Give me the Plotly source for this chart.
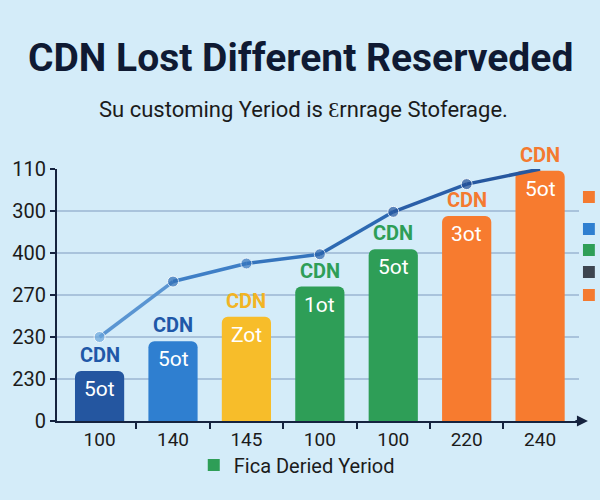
import plotly.graph_objects as go

# ---- data ----
categories = [0, 1, 2, 3, 4, 5, 6]
x_labels = ["100", "140", "145", "100", "100", "220", "240"]
bar_values = [1.19, 1.90, 2.48, 3.20, 4.09, 4.88, 5.96]
line_values = [2.00, 3.32, 3.75, 3.97, 4.98, 5.64, 6.00]
y_tickvals = [0, 1, 2, 3, 4, 5, 6]
y_ticktext = ["0", "230", "230", "270", "400", "300", "110"]
top_labels = ["CDN"] * 7
inner_labels = ["5ot", "5ot", "Zot", "1ot", "5ot", "3ot", "5ot"]
bar_colors = ["#2456a0", "#2f7fd0", "#f7bd2a", "#2e9e57", "#2e9e57", "#f77b2f", "#f77b2f"]
label_colors = ["#1f58a8", "#1f58a8", "#f2b424", "#2e9e57", "#2e9e57", "#f47a30", "#f47a30"]
marker_colors = ["#6aa6dc", "#2f6db5", "#3574bd", "#2a63ad", "#26579f", "#234f96", "#1f4a90"]
marker_sizes = [11, 11, 11, 11, 11, 11, 0]
segment_colors = ["#5a95d2", "#3f7fc6", "#3574bd", "#2d69b2", "#2a5fa8", "#26579f"]
side_colors = ["#f47a30", "#2f7fd0", "#2e9e57", "#3d4550", "#f47a30"]
side_y = [197, 229, 250, 272, 295]

title = "CDN Lost Different Reserveded"
subtitle = "Su customing Yeriod is Ɛrnrage Stoferage."
legend_name = "Fica Deried Yeriod"

BG = "#d4ecf9"
FONT = "Roboto"

fig = go.Figure()
fig.add_trace(go.Bar(
    x=categories, y=bar_values, width=0.67,
    marker=dict(color=bar_colors, line=dict(width=0)),
    showlegend=False, hoverinfo="skip",
))
# line drawn segment by segment for a light-to-dark gradient
for i, sc in enumerate(segment_colors):
    fig.add_trace(go.Scatter(
        x=categories[i:i + 2], y=line_values[i:i + 2], mode="lines",
        line=dict(color=sc, width=3.5),
        showlegend=False, hoverinfo="skip", cliponaxis=False,
    ))
fig.add_trace(go.Scatter(
    x=categories, y=line_values, mode="markers",
    marker=dict(color=marker_colors, size=marker_sizes),
    showlegend=False, hoverinfo="skip", cliponaxis=False,
))
fig.add_trace(go.Scatter(
    x=[None], y=[None], mode="markers", name=legend_name,
    marker=dict(symbol="square", color="#2e9e57", size=13),
))

annotations = []
for xi, v, t, c in zip(categories, bar_values, top_labels, label_colors):
    annotations.append(dict(x=xi, y=v, text="<b>" + t + "</b>", showarrow=False,
                            yshift=16, font=dict(family=FONT, size=20, color=c)))
for xi, v, t in zip(categories, bar_values, inner_labels):
    annotations.append(dict(x=xi, y=v, text=t, showarrow=False,
                            yshift=-18, font=dict(family=FONT, size=21, color="white")))

annotations.append(dict(xref="paper", yref="paper", x=0.467, y=(421 - 58) / 252,
                        xanchor="center", yanchor="middle",
                        text="<b>" + title + "</b>", showarrow=False,
                        font=dict(family=FONT, size=39, color="#0f1a33")))
annotations.append(dict(xref="paper", yref="paper", x=0.472, y=(421 - 110) / 252,
                        xanchor="center", yanchor="middle",
                        text=subtitle, showarrow=False,
                        font=dict(family=FONT, size=22, color="#1b1b1b")))
# x axis arrow
annotations.append(dict(xref="paper", yref="paper", x=(588 - 52) / 527, y=0,
                        ax=-14, ay=0, axref="pixel", ayref="pixel",
                        text="", showarrow=True, arrowhead=2, arrowsize=1,
                        arrowwidth=2.2, arrowcolor="#15233f"))

shapes = []
for c, py in zip(side_colors, side_y):
    yp = (421 - py) / 252
    shapes.append(dict(type="rect", xref="paper", yref="paper",
                       x0=(583 - 52) / 527, x1=(595 - 52) / 527,
                       y0=yp - 6 / 252, y1=yp + 6 / 252,
                       fillcolor=c, line=dict(width=0)))

fig.update_layout(
    width=600, height=500,
    margin=dict(l=52, r=21, t=169, b=79),
    paper_bgcolor=BG, plot_bgcolor=BG,
    font=dict(family=FONT, color="#1b1b1b"),
    barcornerradius=6,
    annotations=annotations,
    shapes=shapes,
    showlegend=True,
    legend=dict(orientation="h", x=0.262, y=(421 - 465) / 252, xanchor="left", yanchor="middle",
                bgcolor="rgba(0,0,0,0)", font=dict(family=FONT, size=20, color="#1b1b1b"),
                itemsizing="constant"),
    xaxis=dict(
        range=[-0.58, 6.53], tickvals=categories, ticktext=x_labels,
        showgrid=False, zeroline=False, showline=True, linecolor="#15233f", linewidth=2.2,
        ticks="", tickfont=dict(family=FONT, size=19, color="#1b1b1b"),
        minor=dict(tickmode="array", tickvals=[0.5, 1.5, 2.5, 3.5, 4.5, 5.5],
                   ticks="outside", ticklen=6, tickwidth=2, tickcolor="#15233f", showgrid=False),
        fixedrange=True,
    ),
    yaxis=dict(
        range=[0, 6], tickvals=y_tickvals, ticktext=y_ticktext,
        showgrid=True, gridcolor="#a9c3dc", gridwidth=1.5, zeroline=False,
        showline=True, linecolor="#15233f", linewidth=2.2,
        ticks="outside", ticklen=5, tickwidth=2, tickcolor="#15233f",
        tickfont=dict(family=FONT, size=20, color="#1b1b1b"),
        fixedrange=True,
    ),
)

fig.write_html("out.html")
